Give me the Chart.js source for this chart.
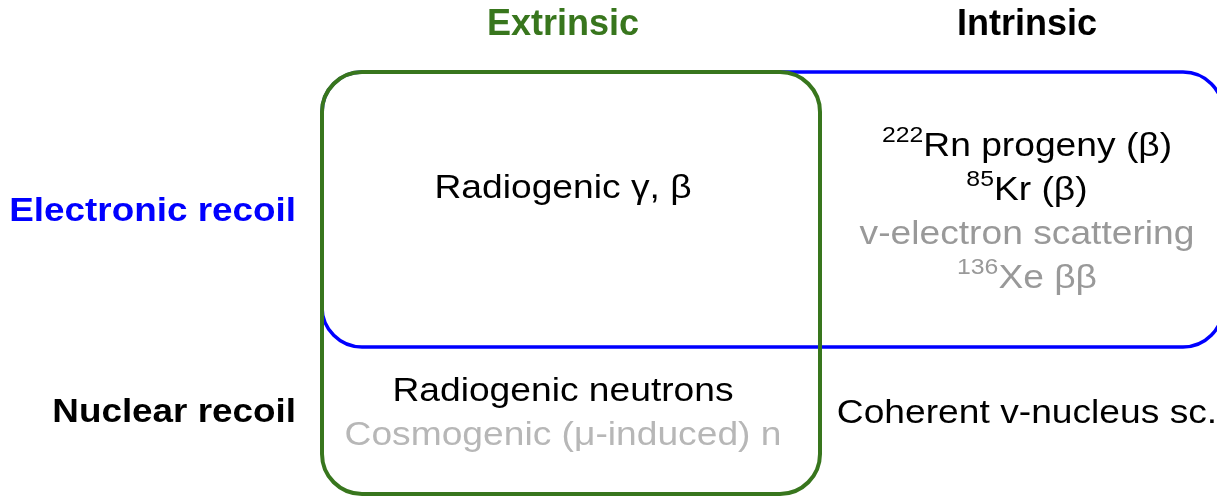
<!DOCTYPE html>
<html>
<head>
<meta charset="utf-8">
<script src="https://cdn.jsdelivr.net/npm/chart.js@4/dist/chart.umd.min.js"></script>
<style>
  html, body { margin: 0; padding: 0; background: #ffffff; overflow: hidden; }
  canvas { display: block; }
</style>
</head>
<body>
<canvas id="c" width="1217" height="499"></canvas>
<script>
// ---------------- data ----------------
const columns = ["Extrinsic", "Intrinsic"];
const rows = ["Electronic recoil", "Nuclear recoil"];
// cell contents: {sup} marks a superscript; tone: 0 = black, 1 = gray, 2 = light gray
const cellER_Ext = ["Radiogenic γ, β"];
const cellER_Int = ["{222}Rn progeny (β)", "{85}Kr (β)", "v-electron scattering", "{136}Xe ββ"];
const cellER_IntTone = [0, 0, 1, 1];
const cellNR_Ext = ["Radiogenic neutrons", "Cosmogenic (μ-induced) n"];
const cellNR_ExtTone = [0, 2];
const cellNR_Int = ["Coherent v-nucleus sc."];
// group memberships: Extrinsic set spans both rows; Electronic recoil set spans both columns
const extrinsicRows = [0, 1];
const electronicCols = [0, 1];

// ---------------- layout / style (scale units) ----------------
const L = {
  colEdges: [322, 820, 1223],
  colCenters: [563, 1027],
  rowTop: 72,
  rowBottoms: [347, 494],
  headerBaseline: 35,
  rowLabelRight: 296,
  rowLabelBaselines: [221, 422],
  cellFirstBaseline: [[198, 156], [401, 423]],
  lineStep: 44,
  radius: 40
};
const S = {
  family: '"Liberation Sans", Arial, "Helvetica", sans-serif',
  green: '#38761d', blue: '#0000ff',
  tones: ['#000000', '#999999', '#b7b7b7'],
  headerSize: 36, labelSize: 33.5, labelSx: 1.1,
  bodySize: 33, bodySx: 1.127, supSize: 22, supRaise: 14
};

function parseRich(str) {
  const segs = [];
  const re = /\{([^}]*)\}|([^{]+)/g;
  let m;
  while ((m = re.exec(str)) !== null) {
    if (m[1] !== undefined) segs.push({ t: m[1], sup: true });
    else segs.push({ t: m[2], sup: false });
  }
  return segs;
}

function drawRich(ctx, str, x, y, opt) {
  const segs = parseRich(str);
  const weight = opt.bold ? 'bold ' : '';
  const fMain = weight + opt.size + 'px ' + S.family;
  const fSup = weight + S.supSize + 'px ' + S.family;
  let total = 0;
  segs.forEach(s => {
    ctx.font = s.sup ? fSup : fMain;
    s.w = ctx.measureText(s.t).width * opt.sx;
    total += s.w;
  });
  let cx = opt.align === 'right' ? x - total : (opt.align === 'left' ? x : x - total / 2);
  ctx.fillStyle = opt.color;
  ctx.textBaseline = 'alphabetic';
  ctx.textAlign = 'left';
  segs.forEach(s => {
    ctx.font = s.sup ? fSup : fMain;
    ctx.save();
    ctx.translate(cx, y - (s.sup ? S.supRaise : 0));
    ctx.scale(opt.sx, 1);
    ctx.fillText(s.t, 0, 0);
    ctx.restore();
    cx += s.w;
  });
}

function roundBox(ctx, x0, y0, x1, y1, r, color, lw) {
  ctx.save();
  ctx.beginPath();
  ctx.roundRect(x0, y0, x1 - x0, y1 - y0, r);
  ctx.strokeStyle = color;
  ctx.lineWidth = lw;
  ctx.stroke();
  ctx.restore();
}

const diagramPlugin = {
  id: 'diagram',
  afterDatasetsDraw(chart) {
    const ctx = chart.ctx;
    const xs = chart.scales.x, ys = chart.scales.y;
    const X = v => xs.getPixelForValue(v);
    const Y = v => ys.getPixelForValue(v);
    const rpx = Math.abs(X(L.radius) - X(0));

    // Electronic recoil set (blue) across columns
    roundBox(ctx, X(L.colEdges[electronicCols[0]]), Y(L.rowTop),
             X(L.colEdges[electronicCols[electronicCols.length - 1] + 1]), Y(L.rowBottoms[0]),
             rpx, S.blue, 3.5);
    // Extrinsic set (green) across rows
    roundBox(ctx, X(L.colEdges[0]), Y(L.rowTop),
             X(L.colEdges[1]), Y(L.rowBottoms[extrinsicRows[extrinsicRows.length - 1]]),
             rpx, S.green, 4);

    // column headers
    columns.forEach((c, i) => {
      drawRich(ctx, c, X(L.colCenters[i]), Y(L.headerBaseline),
        { size: S.headerSize, sx: 1, bold: true, align: 'center', color: i === 0 ? S.green : '#000000' });
    });
    // row labels
    rows.forEach((r, i) => {
      drawRich(ctx, r, X(L.rowLabelRight), Y(L.rowLabelBaselines[i]),
        { size: S.labelSize, sx: S.labelSx, bold: true, align: 'right', color: i === 0 ? S.blue : '#000000' });
    });
    // cells
    const cells = [
      [[cellER_Ext, cellER_Ext.map(() => 0)], [cellER_Int, cellER_IntTone]],
      [[cellNR_Ext, cellNR_ExtTone], [cellNR_Int, cellNR_Int.map(() => 0)]]
    ];
    cells.forEach((row, ri) => {
      row.forEach(([lines, tones], ci) => {
        lines.forEach((ln, k) => {
          drawRich(ctx, ln, X(L.colCenters[ci]), Y(L.cellFirstBaseline[ri][ci] + k * L.lineStep),
            { size: S.bodySize, sx: S.bodySx, bold: false, align: 'center', color: S.tones[tones[k]] });
        });
      });
    });
  }
};

new Chart(document.getElementById('c'), {
  type: 'scatter',
  data: { datasets: [{ data: [], pointRadius: 0 }] },
  options: {
    responsive: false,
    animation: false,
    devicePixelRatio: 1,
    layout: { padding: 0 },
    plugins: { legend: { display: false }, tooltip: { enabled: false }, title: { display: false } },
    scales: {
      x: { type: 'linear', min: 0, max: 1217, display: false },
      y: { type: 'linear', min: 0, max: 499, reverse: true, display: false }
    }
  },
  plugins: [diagramPlugin]
});
</script>
</body>
</html>
